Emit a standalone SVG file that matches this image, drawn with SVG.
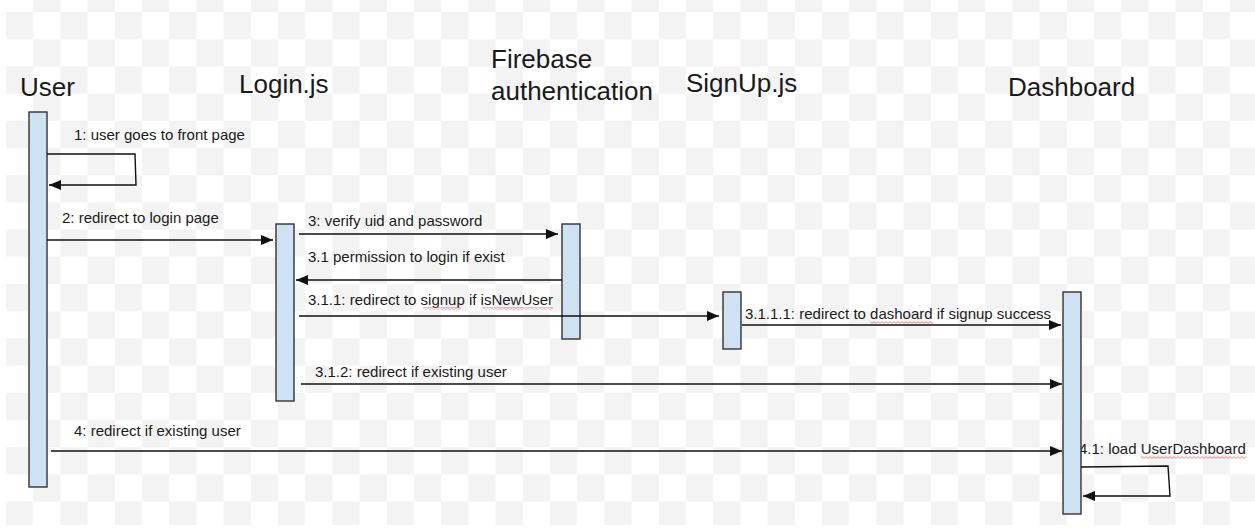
<svg xmlns="http://www.w3.org/2000/svg" width="1255" height="531" viewBox="0 0 1255 531">
<style>
.title{font-family:"Liberation Sans",Arial,sans-serif;font-size:26px;fill:#1a1a1a}
.lbl{font-family:"Liberation Sans",Arial,sans-serif;font-size:15px;fill:#1a1a1a}
.bar{fill:#cfe2f3;stroke:#333;stroke-width:1.4}
.msg{fill:none;stroke:#111;stroke-width:1.4;marker-end:url(#arr)}
</style>
<defs>
<pattern id="chk" x="6" y="12" width="54.4" height="54.4" patternUnits="userSpaceOnUse">
<rect width="27.2" height="27.2" fill="#f3f3f3"/>
<rect x="27.2" y="27.2" width="27.2" height="27.2" fill="#f3f3f3"/>
</pattern>
<pattern id="sq" width="4" height="3" patternUnits="userSpaceOnUse">
<path d="M0,2.4 L2,0.6 L4,2.4" fill="none" stroke="#e06666" stroke-width="0.8"/>
</pattern>
<marker id="arr" viewBox="0 0 12 10" refX="12" refY="5" markerWidth="12" markerHeight="10" markerUnits="userSpaceOnUse" orient="auto">
<path d="M0,0 L12,5 L0,10 Z" fill="#111"/>
</marker>
</defs>
<rect width="1255" height="531" fill="#fff"/>
<rect x="6" y="0" width="1249" height="525" fill="url(#chk)"/>

<g id="labels">
<text class="lbl" x="74" y="140">1: user goes to front page</text>
<text class="lbl" x="62" y="223">2: redirect to login page</text>
<text class="lbl" x="308" y="226">3: verify uid and password</text>
<text class="lbl" x="308" y="262">3.1 permission to login if exist</text>
<text class="lbl" x="308" y="305">3.1.1: redirect to signup if isNewUser</text>
<text class="lbl" x="745" y="319">3.1.1.1: redirect to dashoard if signup success</text>
<text class="lbl" x="315" y="377">3.1.2: redirect if existing user</text>
<text class="lbl" x="74" y="436">4: redirect if existing user</text>
<text class="lbl" x="1079" y="454">4.1: load UserDashboard</text>
<rect x="423" y="307" width="38" height="3" fill="url(#sq)"/>
<rect x="482" y="307" width="71" height="3" fill="url(#sq)"/>
<rect x="870" y="321" width="63" height="3" fill="url(#sq)"/>
<rect x="1141" y="456" width="105" height="3" fill="url(#sq)"/>
</g>

<g id="user">
<text class="title" x="20" y="96">User</text>
<rect class="bar" x="29" y="112" width="18" height="375"/>
</g>
<g id="login">
<text class="title" x="239" y="93">Login.js</text>
<rect class="bar" x="276" y="224" width="18" height="177"/>
</g>
<g id="firebase">
<text class="title" x="491" y="68">Firebase</text>
<text class="title" x="491" y="100">authentication</text>
<rect class="bar" x="562" y="224" width="18" height="115"/>
</g>
<g id="signup">
<text class="title" x="686" y="92">SignUp.js</text>
<rect class="bar" x="723" y="292" width="18" height="57"/>
</g>
<g id="dashboard">
<text class="title" x="1008" y="96">Dashboard</text>
<rect class="bar" x="1063" y="292" width="18" height="222"/>
</g>

<g id="connectors">
<path class="msg" d="M47,154 L135,154 L136,185 L49,185"/>
<path class="msg" d="M47,240 L273,240"/>
<path class="msg" d="M299,234 L558,234"/>
<path class="msg" d="M562,280 L296,280"/>
<path class="msg" d="M299,316 L719,316"/>
<path class="msg" d="M742,325 L1061,325"/>
<path class="msg" d="M301,384 L1062,384"/>
<path class="msg" d="M51,451 L1062,451"/>
<path class="msg" d="M1081,467 L1168,466 L1170,496 L1083,496"/>
</g>
</svg>
